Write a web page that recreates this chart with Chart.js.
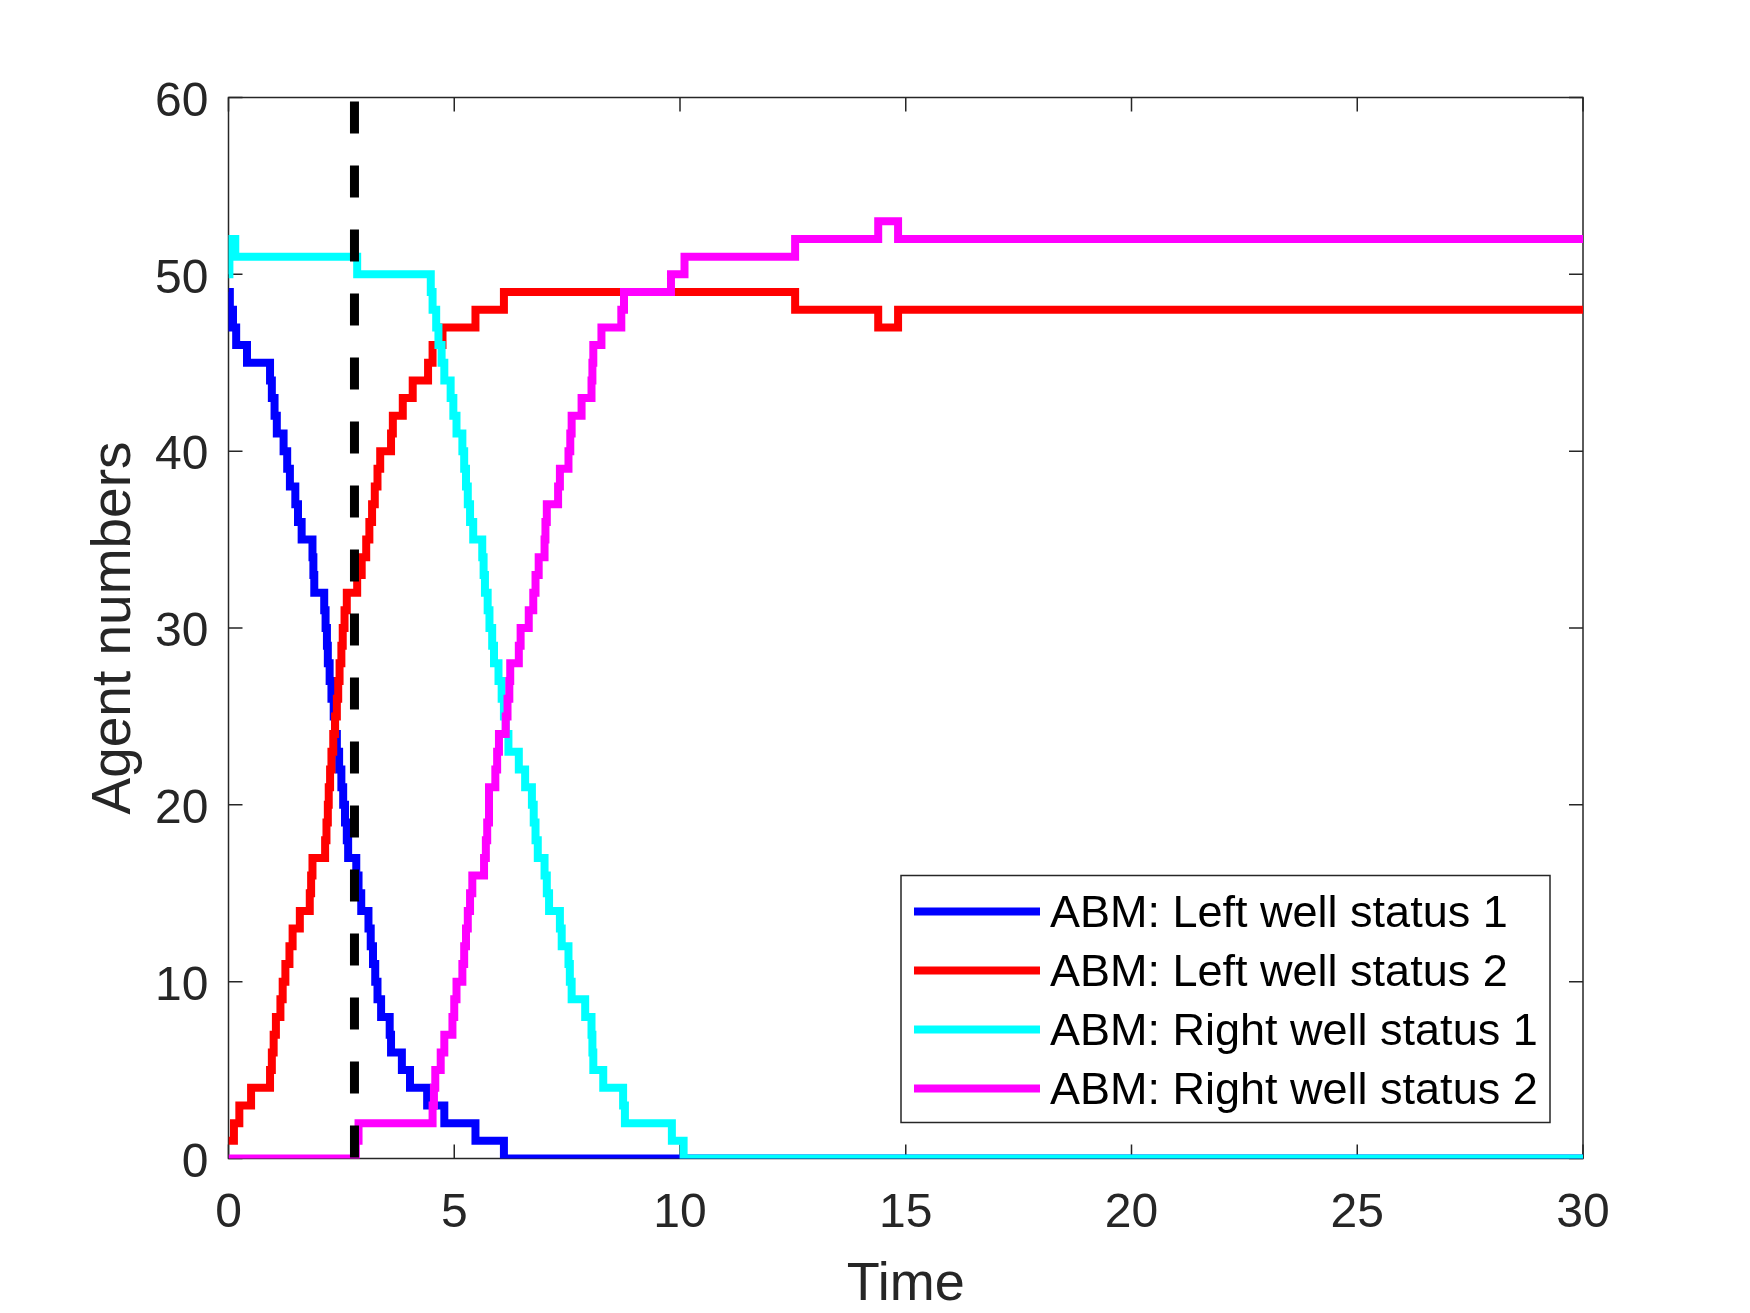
<!DOCTYPE html>
<html>
<head>
<meta charset="utf-8">
<script src="https://cdn.jsdelivr.net/npm/chart.js@4.4.1/dist/chart.umd.min.js"></script>
<style>
  html, body { margin: 0; padding: 0; background: #fff; }
  #wrap { width: 1750px; height: 1313px; }
</style>
</head>
<body>
<div id="wrap"><canvas id="agentChart" width="1750" height="1313"></canvas></div>
<script>
// axis ticks
const xTicks = [0, 5, 10, 15, 20, 25, 30];
const yTicks = [0, 10, 20, 30, 40, 50, 60];

// time of the dashed marker
const markerTime = 2.79;

// ABM: Left well status 1 (time of change, new count)
const leftS1Times = [0, 0.03, 0.06, 0.1, 0.17, 0.41, 0.92, 0.96, 1.02, 1.07, 1.22, 1.3, 1.36, 1.48, 1.54,
  1.62, 1.86, 1.88, 1.9, 2.12, 2.15, 2.18, 2.2, 2.24, 2.28, 2.33, 2.36, 2.4, 2.45, 2.5, 2.54, 2.58, 2.62,
  2.65, 2.83, 2.88, 2.94, 3.1, 3.15, 3.2, 3.25, 3.3, 3.38, 3.57, 3.6, 3.84, 4.02, 4.4, 4.78, 5.47, 6.1, 30];
const leftS1Counts = [49, 47, 48, 47, 46, 45, 44, 43, 42, 41, 40, 39, 38, 37, 36,
  35, 34, 33, 32, 31, 30, 29, 28, 27, 26, 25, 24, 23, 22, 21, 20, 19, 18,
  17, 16, 15, 14, 13, 12, 11, 10, 9, 8, 7, 6, 5, 4, 3, 2, 1, 0, 0];

// ABM: Left well status 2
const leftS2Times = [0, 0.12, 0.24, 0.5, 0.92, 0.96, 1.0, 1.05, 1.15, 1.2, 1.26, 1.35, 1.42, 1.58, 1.8,
  1.83, 1.86, 2.14, 2.17, 2.2, 2.22, 2.25, 2.28, 2.32, 2.36, 2.4, 2.43, 2.46, 2.5, 2.53, 2.57, 2.62,
  2.85, 2.95, 3.05, 3.12, 3.18, 3.24, 3.3, 3.36, 3.6, 3.64, 3.86, 4.08, 4.42, 4.52, 4.74, 5.47, 6.1,
  12.55, 14.39, 14.83, 30];
const leftS2Counts = [1, 2, 3, 4, 5, 6, 7, 8, 9, 10, 11, 12, 13, 14, 15,
  16, 17, 18, 19, 20, 21, 22, 23, 24, 25, 26, 27, 28, 29, 30, 31, 32,
  33, 34, 35, 36, 37, 38, 39, 40, 41, 42, 43, 44, 45, 46, 47, 48, 49,
  48, 47, 48, 48];

// ABM: Right well status 1
const rightS1Times = [0, 0.02, 0.15, 2.85, 4.48, 4.52, 4.6, 4.65, 4.72, 4.78, 4.92, 4.98, 5.05, 5.18,
  5.22, 5.26, 5.3, 5.35, 5.42, 5.62, 5.65, 5.68, 5.74, 5.78, 5.84, 5.88, 5.98, 6.05, 6.1, 6.14, 6.2,
  6.43, 6.57, 6.72, 6.76, 6.8, 6.85, 7.0, 7.05, 7.1, 7.34, 7.38, 7.53, 7.56, 7.6, 7.9, 8.04, 8.06,
  8.08, 8.3, 8.74, 8.78, 9.82, 10.08, 30];
const rightS1Counts = [50, 52, 51, 50, 49, 48, 47, 46, 45, 44, 43, 42, 41, 40,
  39, 38, 37, 36, 35, 34, 33, 32, 31, 30, 29, 28, 27, 26, 25, 24, 23,
  22, 21, 20, 19, 18, 17, 16, 15, 14, 13, 12, 11, 10, 9, 8, 7, 6,
  5, 4, 3, 2, 1, 0, 0];

// ABM: Right well status 2
const rightS2Times = [0, 2.82, 2.88, 4.52, 4.55, 4.58, 4.7, 4.78, 4.96, 5.0, 5.05, 5.18, 5.22, 5.26,
  5.3, 5.35, 5.4, 5.66, 5.7, 5.73, 5.77, 5.91, 5.95, 5.99, 6.14, 6.18, 6.22, 6.24, 6.43, 6.47,
  6.65, 6.75, 6.8, 6.87, 7.0, 7.02, 7.05, 7.3, 7.34, 7.53, 7.57, 7.6, 7.82, 8.04, 8.06, 8.08,
  8.26, 8.7, 8.76, 9.8, 10.1, 12.55, 14.39, 14.83, 30];
const rightS2Counts = [0, 1, 2, 3, 4, 5, 6, 7, 8, 9, 10, 11, 12, 13,
  14, 15, 16, 17, 18, 19, 21, 22, 23, 24, 25, 26, 27, 28, 29, 30,
  31, 32, 33, 34, 35, 36, 37, 38, 39, 40, 41, 42, 43, 44, 45, 46,
  47, 48, 49, 50, 51, 52, 53, 52, 52];

const seriesLabels = ['ABM: Left well status 1', 'ABM: Left well status 2',
  'ABM: Right well status 1', 'ABM: Right well status 2'];
const seriesColors = ['rgb(0, 0, 255)', 'rgb(255, 0, 0)', 'rgb(0, 255, 255)', 'rgb(255, 0, 255)'];

const fontFamily = '"Liberation Sans", Arial, Helvetica, sans-serif';
const axisColor = '#262626';
const lineW = 8;

function toPoints(times, counts) {
  return times.map((t, i) => ({ x: t, y: counts[i] }));
}

const seriesData = [
  toPoints(leftS1Times, leftS1Counts),
  toPoints(leftS2Times, leftS2Counts),
  toPoints(rightS1Times, rightS1Counts),
  toPoints(rightS2Times, rightS2Counts)
];

// later series sit on top, like the original plot order
const datasets = seriesData.map((pts, i) => ({
  label: seriesLabels[i],
  data: pts,
  stepped: true,
  borderColor: seriesColors[i],
  backgroundColor: seriesColors[i],
  borderWidth: lineW,
  borderJoinStyle: 'miter',
  borderCapStyle: 'butt',
  pointRadius: 0,
  fill: false,
  order: 10 - i
}));

datasets.push({
  label: '',
  data: [{ x: markerTime, y: yTicks[yTicks.length - 1] }, { x: markerTime, y: yTicks[0] }],
  borderColor: '#000',
  borderWidth: 9,
  borderDash: [32, 32],
  borderDashOffset: -4,
  borderCapStyle: 'butt',
  pointRadius: 0,
  fill: false,
  order: 0
});

// box with inward ticks on all four sides
const frame = {
  id: 'frame',
  beforeDatasetsDraw(chart) {
    const { ctx, chartArea: a, scales: { x, y } } = chart;
    const len = 14;
    ctx.save();
    ctx.strokeStyle = axisColor;
    ctx.lineWidth = 1.5;
    ctx.strokeRect(a.left, a.top, a.right - a.left, a.bottom - a.top);
    ctx.beginPath();
    xTicks.forEach(v => {
      const px = x.getPixelForValue(v);
      ctx.moveTo(px, a.bottom); ctx.lineTo(px, a.bottom - len);
      ctx.moveTo(px, a.top); ctx.lineTo(px, a.top + len);
    });
    yTicks.forEach(v => {
      const py = y.getPixelForValue(v);
      ctx.moveTo(a.left, py); ctx.lineTo(a.left + len, py);
      ctx.moveTo(a.right, py); ctx.lineTo(a.right - len, py);
    });
    ctx.stroke();
    ctx.restore();
  }
};

// boxed legend in the lower right of the axes
const boxLegend = {
  id: 'boxLegend',
  afterDraw(chart) {
    const { ctx, chartArea: a } = chart;
    const w = 649, h = 247;
    const left = a.right - 33 - w;
    const top = a.bottom - 36 - h;
    ctx.save();
    ctx.fillStyle = '#fff';
    ctx.fillRect(left, top, w, h);
    ctx.strokeStyle = axisColor;
    ctx.lineWidth = 1.5;
    ctx.strokeRect(left, top, w, h);
    ctx.font = '45px ' + fontFamily;
    ctx.textBaseline = 'middle';
    ctx.textAlign = 'left';
    seriesLabels.forEach((lab, i) => {
      const cy = top + 36 + i * 59;
      ctx.strokeStyle = seriesColors[i];
      ctx.lineWidth = lineW;
      ctx.beginPath();
      ctx.moveTo(left + 13, cy);
      ctx.lineTo(left + 139, cy);
      ctx.stroke();
      ctx.fillStyle = '#000';
      ctx.fillText(lab, left + 149, cy + 3);
    });
    ctx.restore();
  }
};

new Chart(document.getElementById('agentChart'), {
  type: 'line',
  data: { datasets },
  options: {
    responsive: false,
    devicePixelRatio: 1,
    animation: false,
    layout: { padding: { top: 97.5, right: 167, left: 0, bottom: 0 } },
    plugins: {
      legend: { display: false },
      tooltip: { enabled: false }
    },
    scales: {
      x: {
        type: 'linear',
        min: xTicks[0],
        max: xTicks[xTicks.length - 1],
        afterBuildTicks: s => { s.ticks = xTicks.map(v => ({ value: v })); },
        afterFit: s => { s.height = 154.5; },
        grid: { display: false, drawTicks: false },
        border: { display: false },
        ticks: {
          autoSkip: false, maxRotation: 0, padding: 26,
          color: axisColor, font: { family: fontFamily, size: 48 }
        },
        title: {
          display: true, text: 'Time', color: axisColor,
          padding: { top: 0, bottom: -5 },
          font: { family: fontFamily, size: 54 }
        }
      },
      y: {
        type: 'linear',
        min: yTicks[0],
        max: yTicks[yTicks.length - 1],
        afterBuildTicks: s => { s.ticks = yTicks.map(v => ({ value: v })); },
        afterFit: s => { s.width = 228.5; },
        grid: { display: false, drawTicks: false },
        border: { display: false },
        ticks: {
          autoSkip: false, padding: 20, labelOffset: 5,
          color: axisColor, font: { family: fontFamily, size: 48 }
        },
        title: {
          display: true, text: 'Agent numbers', color: axisColor,
          padding: { top: 82, bottom: 0 },
          font: { family: fontFamily, size: 55 }
        }
      }
    }
  },
  plugins: [frame, boxLegend]
});
</script>
</body>
</html>
